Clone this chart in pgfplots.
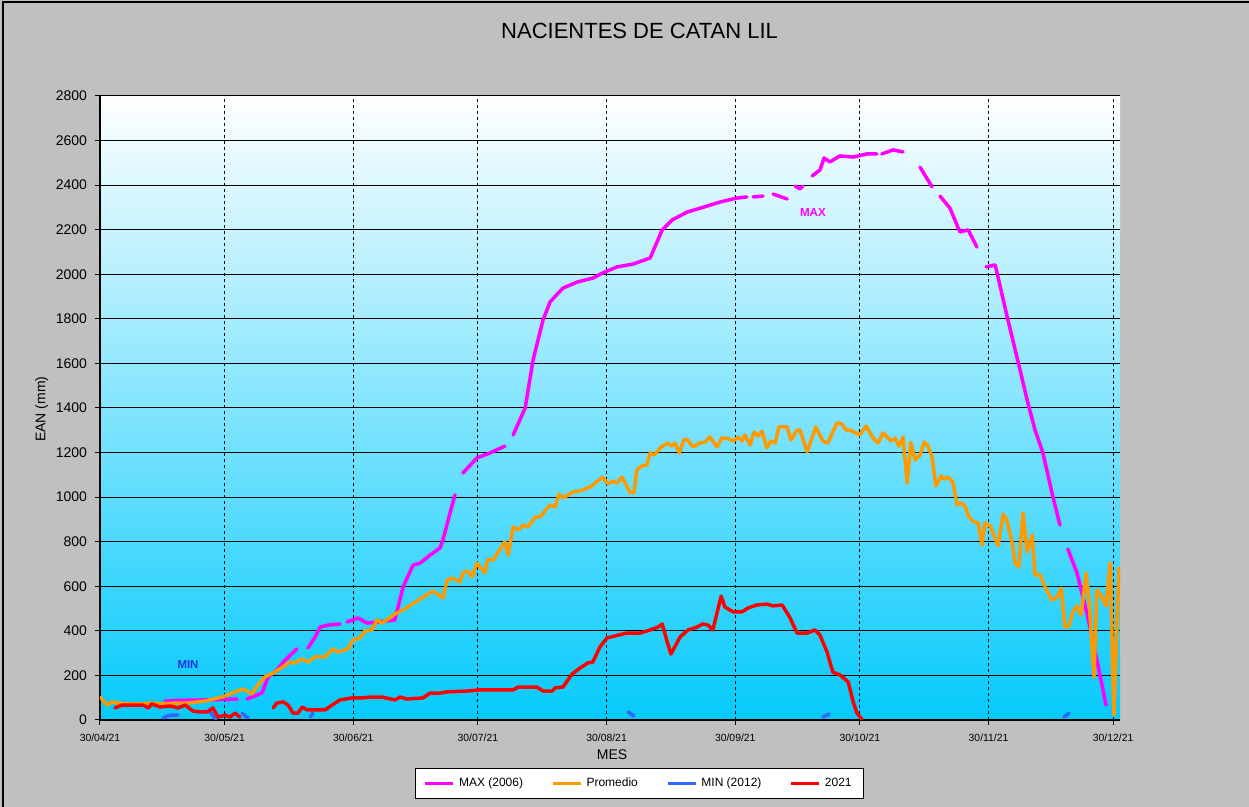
\documentclass[border=0pt]{standalone}
\usepackage{fontspec}
\setmainfont{Liberation Sans}
\usepackage{pgfplots}
\pgfplotsset{compat=1.18}
\definecolor{bggray}{RGB}{192,192,192}
\definecolor{cmax}{RGB}{255,0,255}
\definecolor{cprom}{RGB}{255,153,0}
\definecolor{cmin}{RGB}{51,102,255}
\definecolor{c21}{RGB}{255,0,0}
\definecolor{skyb}{RGB}{5,202,252}
\definecolor{minlbl}{RGB}{30,50,230}
\begin{document}
\begin{tikzpicture}
\useasboundingbox (-50pt,-43.5pt) rectangle (574.5pt,360pt);
\fill[bggray] (-50pt,-43.5pt) rectangle (574.5pt,360pt);
\draw[black,line width=1pt] (-48.5pt,-43.5pt) -- (-48.5pt,359pt) -- (574.5pt,359pt);
\begin{axis}[
  at={(0pt,0pt)}, anchor=south west,
  scale only axis, width=510pt, height=312pt,
  xmin=0, xmax=245.66, ymin=0, ymax=2800,
  axis x line*=bottom, axis y line*=left,
  x axis line style={black,line width=0.9pt},
  y axis line style={black,line width=0.6pt},
  axis background/.style={top color=white, bottom color=skyb},
  xtick={0,30,61,91,122,153,183,214,244},
  xticklabels={30/04/21,30/05/21,30/06/21,30/07/21,30/08/21,30/09/21,30/10/21,30/11/21,30/12/21},
  ytick={0,200,...,2800},
  tick align=outside, major tick length=2.5pt,
  tick style={black,line width=0.5pt},
  xmajorgrids, ymajorgrids,
  x grid style={black,line width=0.5pt,dash pattern=on 1.5pt off 1.5pt},
  y grid style={black,line width=0.5pt},
  /pgf/number format/assume math mode=true,
  /pgf/number format/1000 sep={},
  yticklabel style={font=\fontsize{7}{8}\selectfont, xshift=-0.5pt},
  xticklabel style={font=\fontsize{5.2}{6}\selectfont, yshift=-1pt},
  title={NACIENTES DE CATAN LIL},
  title style={at={(0.529,1.085)}, anchor=center, font=\fontsize{11}{13}\selectfont},
  xlabel={MES},
  xlabel style={at={(0.502,-0.056)}, anchor=center, font=\fontsize{7}{8}\selectfont},
  ylabel={EAN (mm)},
  ylabel style={at={(-0.057,0.498)}, anchor=center, font=\fontsize{7}{8}\selectfont},
  unbounded coords=jump,
  every axis plot/.append style={line width=1.75pt, line join=round, line cap=round, mark=none},
  legend columns=4,
  legend image code/.code={\draw[#1, line width=1.75pt, line cap=butt] (0pt,0pt) -- (14pt,0pt);},
  legend style={at={(0.529,-0.1018)}, anchor=center, draw=black, fill=white,
    font=\fontsize{6}{7}\selectfont, inner xsep=4pt, inner ysep=2.5pt,
    /tikz/every even column/.append style={column sep=12pt}},
  legend cell align=left,
]
% MAX (2006)
\addplot[cmax] coordinates {
(15.7,85)(19.3,88)(25,90)(33.0,94)(33.5,nan)
(35.4,94)(39.0,121)(40.5,193)(42.6,224)(44.6,269)(47.4,319)(48,nan)
(50.1,323)(51.8,372)(53.0,417)(54.9,426)(57.8,431)(58.5,nan)
(59.5,440)(62.1,458)(64.3,435)(67.0,440)(71.0,449)(73.0,597)(75.4,695)(77.1,704)(79.5,740)(81.9,772)(82.6,808)(84.3,929)(85.5,1010)(86,nan)
(87.4,1108)(90.8,1176)(93.9,1198)(97.5,1229)(98,nan)
(99.5,1279)(102.4,1400)(104.3,1615)(106.7,1795)(108.4,1876)(111.5,1938)(114.9,1965)(118.7,1983)(121.1,2006)(124.5,2033)(128.4,2046)(132.5,2073)(135.4,2199)(137.8,2244)(141.4,2279)(146.2,2306)(149.3,2324)(153.4,2342)(155.8,2347)(156.5,nan)
(157.3,2347)(159.7,2351)(160.5,nan)
(162.1,2360)(165.5,2338)(166,nan)
(167.4,2396)(168.6,2383)(169.3,2396)(170,nan)
(171.5,2441)(173.4,2468)(174.4,2522)(175.8,2504)(178.2,2531)(181.4,2526)(184.7,2540)(187.1,2540)(187.6,nan)
(188.3,2540)(191.0,2558)(193.4,2549)(194,nan)
(197.5,2481)(200.4,2392)(201,nan)
(202.3,2351)(204.7,2297)(207.1,2190)(209.1,2199)(211.2,2122)(212,nan)
(213.4,2033)(215.6,2042)(218.5,1808)(221.6,1570)(223.3,1436)(225.2,1301)(227.1,1198)(229.5,1001)(231.2,875)(232,nan)
(233.1,767)(235.3,660)(237.7,480)(240.1,269)(242.3,67)
};
\addlegendentry{MAX (2006)}
% Promedio
\addplot[cprom] coordinates {
(0,103)(1.7,67)(2.9,81)(4.3,76)(6.7,72)(9.2,72)(11.6,76)(14.9,72)(18.1,76)(21.2,76)(25.3,85)(29.4,103)(32.5,126)(34.4,139)(36.6,117)(38.0,157)(39.7,193)(42.1,215)(44.0,238)(45.8,260)(47.0,256)(48.6,274)(50.1,260)(51.8,283)(54.2,283)(56.1,319)(57.3,305)(59.7,319)(60.9,359)(62.6,368)(63.8,399)(65.5,404)(66.7,449)(67.9,435)(69.4,453)(70.6,471)(73.0,494)(77.1,543)(80.2,579)(82.6,547)(83.6,628)(84.8,637)(86.7,619)(87.4,660)(88.6,669)(89.6,642)(90.8,704)(92.7,660)(93.4,722)(94.7,718)(97.5,799)(98.3,740)(99.5,866)(100.7,853)(101.9,875)(103.1,866)(104.8,911)(106.0,911)(108.4,965)(109.6,956)(110.5,1014)(111.5,996)(113.9,1023)(115.6,1028)(118.0,1045)(121.1,1090)(122.4,1059)(123.6,1072)(124.5,1063)(125.7,1090)(127.6,1023)(128.6,1019)(129.3,1122)(130.5,1140)(131.7,1144)(132.5,1198)(133.4,1189)(134.9,1220)(136.6,1243)(137.8,1229)(138.5,1243)(139.5,1198)(140.7,1261)(141.6,1256)(142.8,1225)(144.5,1243)(145.7,1247)(146.9,1270)(148.6,1225)(149.8,1265)(151.0,1265)(152.5,1252)(153.7,1270)(154.6,1252)(155.3,1279)(156.6,1234)(157.5,1292)(158.5,1274)(159.4,1297)(160.6,1221)(161.6,1252)(162.6,1243)(163.5,1315)(165.5,1315)(166.4,1256)(167.9,1301)(168.6,1301)(170.3,1203)(172.4,1315)(174.1,1252)(175.3,1243)(177.5,1333)(178.7,1328)(179.7,1301)(180.6,1301)(183.0,1279)(184.5,1319)(186.2,1265)(187.4,1243)(188.6,1288)(190.5,1252)(191.5,1265)(192.4,1229)(193.4,1270)(194.4,1063)(195.3,1247)(196.3,1167)(197.5,1189)(198.5,1247)(199.4,1229)(200.4,1180)(201.3,1050)(202.6,1095)(203.3,1081)(204.2,1090)(205.4,1068)(206.4,965)(207.4,974)(208.3,960)(209.3,911)(210.5,888)(211.5,884)(212.4,785)(213.1,884)(214.4,870)(216.3,781)(217.5,924)(218.4,897)(219.7,794)(220.4,704)(221.3,687)(222.3,929)(223.3,754)(224.5,830)(225.2,651)(226.4,651)(227.6,597)(229.3,538)(230.5,552)(231.5,592)(232.4,417)(233.4,422)(234.3,485)(235.3,512)(236.3,471)(237.5,659)(238.2,538)(239.4,193)(240.1,583)(241.3,552)(242.3,512)(243.3,704)(244.2,22)(245.4,682)
};
\addlegendentry{Promedio}
% MIN (2012)
\addplot[cmin] coordinates {
(15.2,9)(16.9,22)(18.8,22)(19.5,nan)(26.5,36)(27.9,4)(28.5,nan)(34.2,31)(35.6,9)(36,nan)(50.6,13)(51.3,31)(52,nan)(127.2,36)(128.6,18)(129,nan)(174.1,13)(175.6,27)(176,nan)(232.2,13)(233.4,31)
};
\addlegendentry{MIN (2012)}
% 2021
\addplot[c21] coordinates {
(3.6,54)(5.3,67)(10.4,67)(11.6,54)(12.5,72)(14.5,58)(16.9,63)(18.8,54)(20.5,67)(22.4,40)(24.1,36)(25.8,36)(27.2,54)(28.4,13)(30.1,22)(31.3,13)(32.5,31)(33.7,13)(34.5,nan)(41.7,54)(42.6,76)(44.1,81)(45.3,67)(46.5,31)(47.7,31)(48.7,58)(49.9,45)(51.8,45)(54.2,45)(55.9,67)(57.8,90)(60.7,99)(63.1,99)(65.5,103)(67.9,103)(71.0,90)(72.3,103)(73.9,94)(77.8,99)(79.5,121)(81.9,121)(83.6,126)(88.4,130)(91.5,135)(99.5,135)(100.7,148)(105.2,148)(106.7,130)(108.9,130)(109.6,144)(111.5,148)(113.7,206)(115.6,233)(117.5,256)(118.7,260)(120.4,328)(122.1,368)(124.8,381)(126.9,390)(130.1,390)(132.5,404)(134.4,417)(135.4,431)(136.6,350)(137.5,296)(139.7,372)(141.6,404)(143.8,417)(145.2,431)(146.4,426)(147.6,404)(149.6,556)(150.5,507)(152.5,485)(154.6,485)(156.1,503)(158.2,516)(160.6,520)(162.1,512)(164.3,516)(166.2,458)(167.9,390)(170.3,390)(172.2,404)(173.4,381)(175.1,305)(176.5,215)(178.2,202)(180.2,171)(181.4,81)(182.3,31)(183.5,4)
};
\addlegendentry{2021}
\node[text=minlbl, font=\bfseries\fontsize{5.7}{7}\selectfont] at (axis cs:21.2,247) {MIN};
\node[text=cmax, font=\bfseries\fontsize{5.8}{7}\selectfont] at (axis cs:171.7,2279) {MAX};
\end{axis}
\end{tikzpicture}
\end{document}
